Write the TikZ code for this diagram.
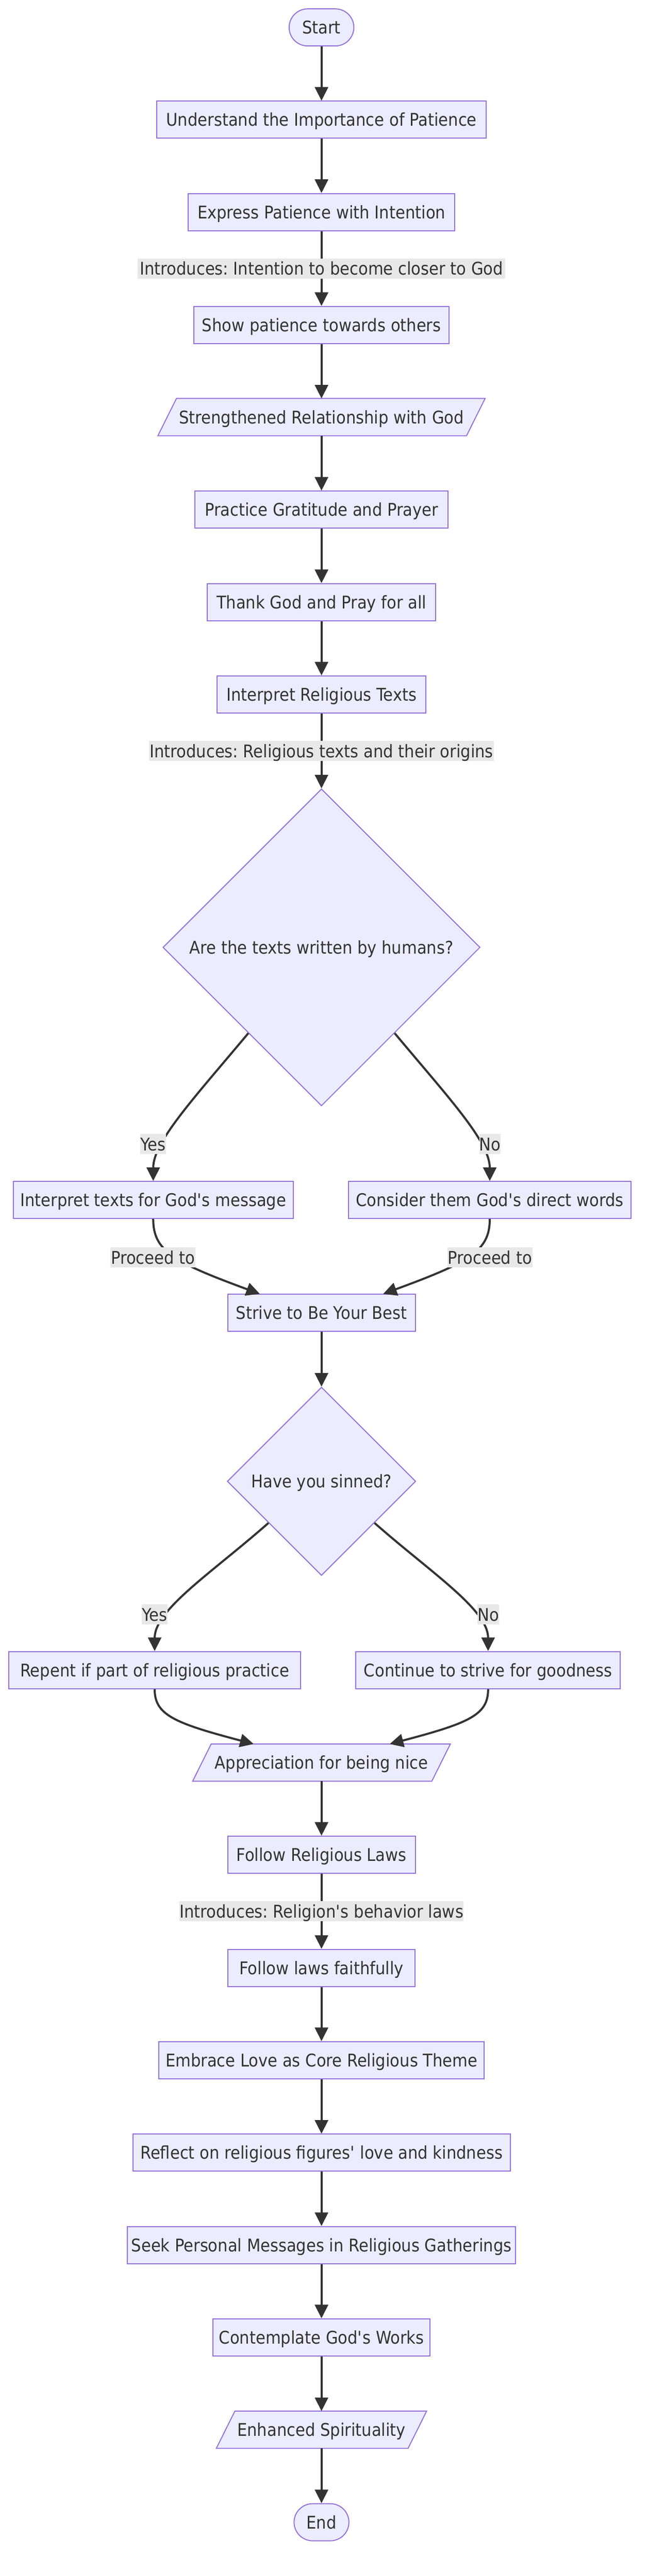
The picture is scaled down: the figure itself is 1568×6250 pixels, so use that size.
\documentclass[tikz,border=0pt]{standalone}
\usepackage{fontspec}
\setmainfont{DejaVu Sans}[FakeStretch=0.9]
\usetikzlibrary{shapes.geometric,arrows.meta,calc,backgrounds}
\definecolor{nodefill}{HTML}{ECECFF}
\definecolor{nodeline}{HTML}{9370DB}
\definecolor{ink}{HTML}{333333}
\definecolor{lblbg}{HTML}{E8E8E8}
\newcommand\diagfont{\fontsize{42.5}{49}\selectfont\frenchspacing}
\newcommand\apos{\textquotesingle}
\tikzset{
  box/.style={rectangle, draw=nodeline, fill=nodefill, line width=2.4pt, text=ink,
    minimum height=90pt, inner xsep=4pt, inner ysep=0pt,
    text height=40pt, text depth=9pt, font=\diagfont},
  term/.style={box, rounded corners=45pt},
  para/.style={rectangle, draw=none, fill=none, text=ink, minimum height=90pt,
    inner xsep=0pt, inner ysep=0pt, text height=40pt, text depth=9pt, font=\diagfont},
  dia/.style={diamond, aspect=1, draw=nodeline, fill=nodefill, line width=2.4pt, text=ink,
    inner sep=0pt, text height=40pt, text depth=9pt, font=\diagfont},
  lbl/.style={rectangle, fill=lblbg, text=ink, inner sep=0pt, minimum height=49pt,
    text height=40pt, text depth=9pt, font=\diagfont},
  edge/.style={draw=ink, line width=5pt, -{Triangle[length=33pt,width=32pt]}},
  parashape/.style={fill=nodefill, draw=nodeline, line width=2.4pt}
}
\begin{document}
\frenchspacing
\begin{tikzpicture}[x=1pt,y=-1pt]
\useasboundingbox (0,0) rectangle (1568,6250);

% nodes
\node[term, minimum width=157pt] (Start) at (779.5,66.5) {Start};
\node[box, minimum width=799pt] (U) at (779.5,290.5) {Understand the Importance of Patience};
\node[box, minimum width=647pt] (E) at (779.5,514.5) {Express Patience with Intention};
\node[box, minimum width=619pt] (S) at (779.5,788.5) {Show patience towards others};
\node[para, minimum width=748pt] (SR) at (779.5,1012) {Strengthened Relationship with God};
\node[box, minimum width=613pt] (P) at (779.5,1236.5) {Practice Gratitude and Prayer};
\node[box, minimum width=553pt] (T) at (779.5,1461) {Thank God and Pray for all};
\node[box, minimum width=507pt] (IRT) at (779.5,1685) {Interpret Religious Texts};
\node[dia, minimum width=769pt, minimum height=769pt] (D1) at (779.5,2298.5) {Are the texts written by humans?};
\node[box, minimum width=679pt] (IT) at (371.5,2911.5) {Interpret texts for God\apos s message};
\node[box, minimum width=685pt] (CG) at (1187.5,2911.5) {Consider them God\apos s direct words};
\node[box, minimum width=455pt] (SB) at (779.5,3185.5) {Strive to Be Your Best};
\node[dia, minimum width=457pt, minimum height=457pt] (D2) at (779.5,3594) {Have you sinned?};
\node[box, minimum width=708pt] (RP) at (375,4052) {Repent if part of religious practice};
\node[box, minimum width=641pt] (CT) at (1183.5,4052) {Continue to strive for goodness};
\node[para, minimum width=579.5pt] (AP) at (779.5,4276.5) {Appreciation for being nice};
\node[box, minimum width=455pt] (FRL) at (779.5,4500) {Follow Religious Laws};
\node[box, minimum width=454pt] (FLF) at (779.5,4774.5) {Follow laws faithfully};
\node[box, minimum width=789pt] (EL) at (779.5,4998.5) {Embrace Love as Core Religious Theme};
\node[box, minimum width=915pt] (RF) at (779.5,5223) {Reflect on religious figures\apos{} love and kindness};
\node[box, minimum width=941pt] (SK) at (779.5,5447) {Seek Personal Messages in Religious Gatherings};
\node[box, minimum width=527pt] (CGW) at (779.5,5671) {Contemplate God\apos s Works};
\node[para, minimum width=464.5pt] (ES) at (779.5,5895) {Enhanced Spirituality};
\node[term, minimum width=133pt] (End) at (779.5,6119.5) {End};

% parallelogram outlines
\begin{scope}[on background layer]
\foreach \n in {SR,AP,ES}
  \filldraw[parashape] ([xshift=-22.5pt]\n.south west) -- ([xshift=22.5pt]\n.north west)
    -- ([xshift=22.5pt]\n.north east) -- ([xshift=-22.5pt]\n.south east) -- cycle;
\end{scope}

% straight edges
\draw[edge] (Start) -- (U);
\draw[edge] (U) -- (E);
\draw[edge] (E) -- node[lbl, minimum width=891pt] (L1) {Introduces: Intention to become closer to God} (S);
\draw[edge] (S) -- (SR);
\draw[edge] (SR) -- (P);
\draw[edge] (P) -- (T);
\draw[edge] (T) -- (IRT);
\draw[edge] (IRT) -- node[lbl, minimum width=837pt] (L2) {Introduces: Religious texts and their origins} (D1);
\draw[edge] (SB) -- (D2);
\draw[edge] (AP) -- (FRL);
\draw[edge] (FRL) -- node[lbl, minimum width=683pt] (L3) {Introduces: Religion\apos s behavior laws} (FLF);
\draw[edge] (FLF) -- (EL);
\draw[edge] (EL) -- (RF);
\draw[edge] (RF) -- (SK);
\draw[edge] (SK) -- (CGW);
\draw[edge] (CGW) -- (ES);
\draw[edge] (ES) -- (End);

% branches of first decision
\draw[edge] ($(D1.west)!0.54!(D1.south)$) .. controls (470,2665) and (371.5,2770) .. (IT.north);
\draw[edge] ($(D1.east)!0.54!(D1.south)$) .. controls (1089,2665) and (1187.5,2770) .. (CG.north);
\draw[edge] (IT.south) .. controls (371.5,3035) and (420,3062) .. ($(SB.north)+(-149.5,0)$);
\draw[edge] (CG.south) .. controls (1187.5,3035) and (1139,3062) .. ($(SB.north)+(149.5,0)$);

% branches of second decision
\draw[edge] ($(D2.west)!0.44!(D2.south)$) .. controls (515,3815) and (375,3905) .. (RP.north);
\draw[edge] ($(D2.east)!0.44!(D2.south)$) .. controls (1044,3815) and (1183.5,3905) .. (CT.north);
\draw[edge] (RP.south) .. controls (375,4160) and (420,4180) .. ($(AP.north)+(-164.5,0)$);
\draw[edge] (CT.south) .. controls (1183.5,4160) and (1140,4180) .. ($(AP.north)+(165.5,0)$);

% edge labels on curves
\node[lbl] (Y1) at (371,2776) {Yes};
\node[lbl] (N1) at (1188,2776) {No};
\node[lbl, minimum width=206pt] (PR1) at (371,3051) {Proceed to};
\node[lbl, minimum width=206pt] (PR2) at (1188,3051) {Proceed to};
\node[lbl] (Y2) at (375,3917) {Yes};
\node[lbl] (N2) at (1184,3917) {No};
\end{tikzpicture}
\end{document}
